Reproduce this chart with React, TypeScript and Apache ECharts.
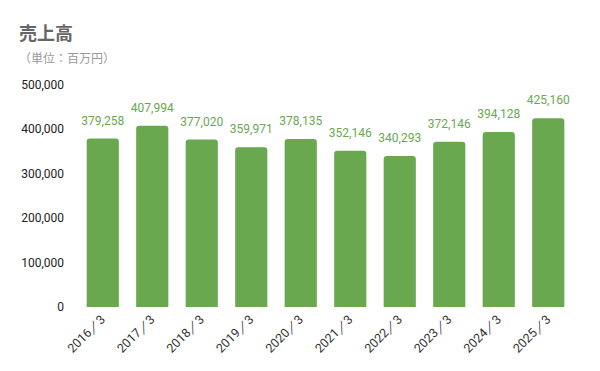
import React, { useEffect, useRef } from "react";
import * as echarts from "echarts";

const categories = ["2016／3", "2017／3", "2018／3", "2019／3", "2020／3", "2021／3", "2022／3", "2023／3", "2024／3", "2025／3"];
const sales = [379258, 407994, 377020, 359971, 378135, 352146, 340293, 372146, 394128, 425160];

export default function App() {
  const ref = useRef<HTMLDivElement>(null);
  useEffect(() => {
    if (!ref.current) return;
    const chart = echarts.init(ref.current, null, { renderer: "svg" });
    chart.setOption({
      animation: false,
      title: {
        text: "売上高",
        subtext: "（単位：百万円）",
        left: 6,
        top: 10,
        itemGap: 11,
        textStyle: { fontSize: 18, fontWeight: "bold", color: "#666", fontFamily: "Noto Sans CJK JP" },
        subtextStyle: { fontSize: 12, color: "#999", fontFamily: "Noto Sans CJK JP" },
      },
      grid: { left: 70, right: 19, top: 77, bottom: 56 },
      xAxis: {
        type: "category",
        data: categories,
        axisLine: { show: false },
        axisTick: { show: false },
        axisLabel: { rotate: 45, color: "#333", fontSize: 12.5, margin: 10, fontFamily: "Roboto" },
      },
      yAxis: {
        type: "value",
        min: 0,
        max: 500000,
        interval: 100000,
        splitLine: { show: false },
        axisLine: { show: false },
        axisTick: { show: false },
        axisLabel: {
          color: "#222",
          fontSize: 12,
          margin: 14,
          fontFamily: "Roboto",
          formatter: (v: number) => v.toLocaleString("en-US"),
        },
      },
      series: [
        {
          type: "bar",
          data: sales,
          barWidth: "65%",
          itemStyle: { color: "#6aa84f", borderRadius: [3, 3, 0, 0] },
          label: {
            show: true,
            position: "top",
            distance: 12,
            color: "#6aa84f",
            fontSize: 12,
            fontFamily: "Roboto",
            formatter: (p: any) => Number(p.value).toLocaleString("en-US"),
          },
        },
      ],
    });
    return () => chart.dispose();
  }, []);
  return <div ref={ref} style={{ width: 584, height: 355 }} />;
}
